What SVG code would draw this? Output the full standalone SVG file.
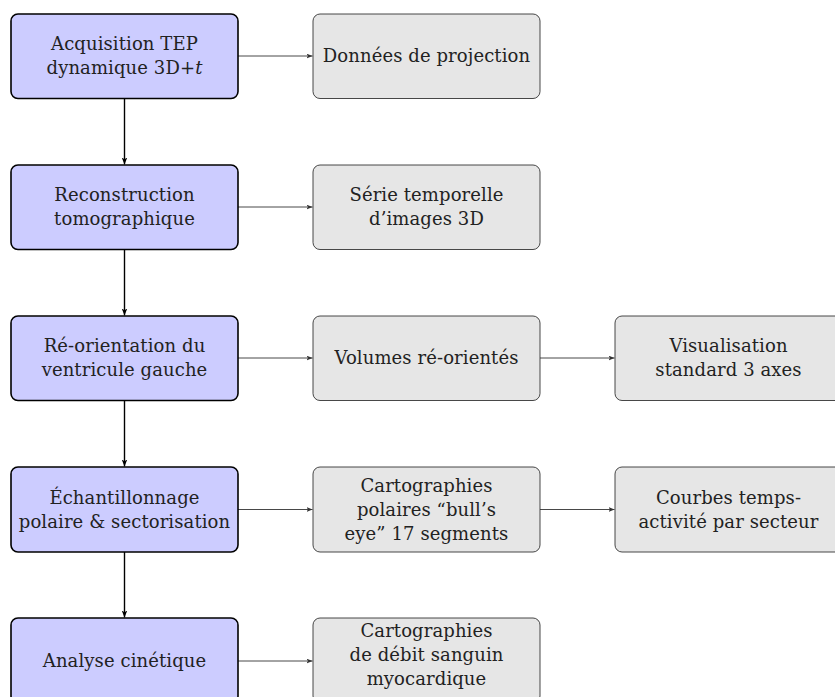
<svg xmlns="http://www.w3.org/2000/svg" width="835" height="697" viewBox="0 0 835 697">
<style>
.b{fill:#ccccff;stroke:#000;stroke-width:1.6}
.g{fill:#e6e6e6;stroke:#333;stroke-width:0.9}
text{font-family:"DejaVu Serif","Liberation Serif",serif;font-size:18px;letter-spacing:0.1px;fill:#222;text-anchor:middle}
.v{stroke:#000;stroke-width:1.4;fill:none}
.h{stroke:#333;stroke-width:0.9;fill:none}
</style>
<defs>
<marker id="ab" viewBox="0 0 10 8" refX="10" refY="4" markerWidth="7" markerHeight="6" markerUnits="userSpaceOnUse" orient="auto"><path d="M0,0 L10,4 L0,8 L2.5,4 Z" fill="#000"/></marker>
<marker id="ag" viewBox="0 0 10 8" refX="10" refY="4" markerWidth="6" markerHeight="5" markerUnits="userSpaceOnUse" orient="auto"><path d="M0,0 L10,4 L0,8 L2.5,4 Z" fill="#333"/></marker>
</defs>
<g id="connectors">
<line class="v" x1="124.5" y1="98.5" x2="124.5" y2="164.5" marker-end="url(#ab)"/>
<line class="v" x1="124.5" y1="249.5" x2="124.5" y2="315.5" marker-end="url(#ab)"/>
<line class="v" x1="124.5" y1="400.5" x2="124.5" y2="466.5" marker-end="url(#ab)"/>
<line class="v" x1="124.5" y1="552" x2="124.5" y2="617.5" marker-end="url(#ab)"/>
<line class="h" x1="238" y1="56" x2="312.5" y2="56" marker-end="url(#ag)"/>
<line class="h" x1="238" y1="207" x2="312.5" y2="207" marker-end="url(#ag)"/>
<line class="h" x1="238" y1="358" x2="312.5" y2="358" marker-end="url(#ag)"/>
<line class="h" x1="238" y1="509.5" x2="312.5" y2="509.5" marker-end="url(#ag)"/>
<line class="h" x1="238" y1="661" x2="312.5" y2="661" marker-end="url(#ag)"/>
<line class="h" x1="540" y1="358" x2="614.5" y2="358" marker-end="url(#ag)"/>
<line class="h" x1="540" y1="509.5" x2="614.5" y2="509.5" marker-end="url(#ag)"/>
</g>
<g id="n1"><rect class="b" x="11" y="14" width="227" height="84.5" rx="7"/><text x="124.5" y="50">Acquisition TEP</text><text x="124.5" y="74">dynamique 3D+<tspan font-style="italic">t</tspan></text></g>
<g id="n2"><rect class="b" x="11" y="165" width="227" height="84.5" rx="7"/><text x="124.5" y="201">Reconstruction</text><text x="124.5" y="225">tomographique</text></g>
<g id="n3"><rect class="b" x="11" y="316" width="227" height="84.5" rx="7"/><text x="124.5" y="352">Ré-orientation du</text><text x="124.5" y="376">ventricule gauche</text></g>
<g id="n4"><rect class="b" x="11" y="467" width="227" height="85" rx="7"/><text x="124.5" y="503.5">Échantillonnage</text><text x="124.5" y="527.5">polaire &amp; sectorisation</text></g>
<g id="n5"><rect class="b" x="11" y="618" width="227" height="85" rx="7"/><text x="124.5" y="667">Analyse cinétique</text></g>
<g id="g1"><rect class="g" x="313" y="14" width="227" height="84.5" rx="7"/><text x="426.5" y="62">Données de projection</text></g>
<g id="g2"><rect class="g" x="313" y="165" width="227" height="84.5" rx="7"/><text x="426.5" y="201">Série temporelle</text><text x="426.5" y="225">d’images 3D</text></g>
<g id="g3"><rect class="g" x="313" y="316" width="227" height="84.5" rx="7"/><text x="426.5" y="364">Volumes ré-orientés</text></g>
<g id="g4"><rect class="g" x="313" y="467" width="227" height="85" rx="7"/><text x="426.5" y="491.5">Cartographies</text><text x="426.5" y="515.5">polaires “bull’s</text><text x="426.5" y="539.5">eye” 17 segments</text></g>
<g id="g5"><rect class="g" x="313" y="618" width="227" height="85" rx="7"/><text x="426.5" y="637">Cartographies</text><text x="426.5" y="661">de débit sanguin</text><text x="426.5" y="685">myocardique</text></g>
<g id="g6"><rect class="g" x="615" y="316" width="227" height="84.5" rx="7"/><text x="728.5" y="352">Visualisation</text><text x="728.5" y="376">standard 3 axes</text></g>
<g id="g7"><rect class="g" x="615" y="467" width="227" height="85" rx="7"/><text x="728.5" y="503.5">Courbes temps-</text><text x="728.5" y="527.5">activité par secteur</text></g>
</svg>
